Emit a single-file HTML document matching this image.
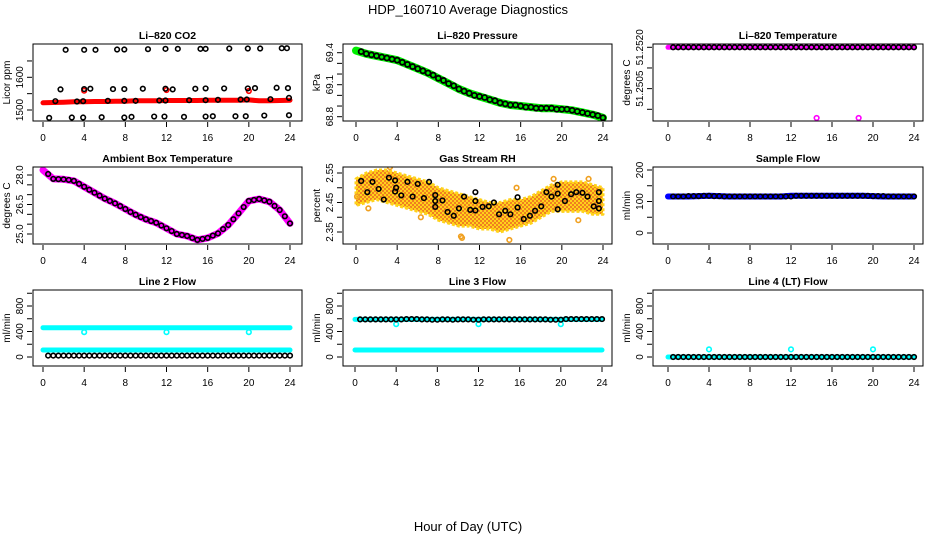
<!DOCTYPE html>
<html><head><meta charset="utf-8">
<style>
html,body{margin:0;padding:0;background:#fff;}
svg{display:block;font-family:"Liberation Sans",Arial,sans-serif;}
</style></head>
<body>
<svg id="chart" width="936" height="540" viewBox="0 0 936 540" xmlns="http://www.w3.org/2000/svg">
<defs>
<pattern id="rhpat" width="4" height="4" patternUnits="userSpaceOnUse">
<rect width="4" height="4" fill="#ffd21a"/>
<rect width="2" height="2" fill="#f08020"/>
<rect x="2" y="2" width="2" height="2" fill="#f08020"/>
</pattern>
</defs>
<text x="468" y="14" font-size="13" text-anchor="middle">HDP_160710  Average Diagnostics</text>
<text x="468" y="531" font-size="13" text-anchor="middle">Hour of Day (UTC)</text>
</svg>
<script>
// ---------- data ----------
const xTicks = [0,4,8,12,16,20,24];
const halfHours = [0.5,1,1.5,2,2.5,3,3.5,4,4.5,5,5.5,6,6.5,7,7.5,8,8.5,9,9.5,10,10.5,11,11.5,12,12.5,13,13.5,14,14.5,15,15.5,16,16.5,17,17.5,18,18.5,19,19.5,20,20.5,21,21.5,22,22.5,23,23.5,24];
const hours = [0,1,2,3,4,5,6,7,8,9,10,11,12,13,14,15,16,17,18,19,20,21,22,23,24];

// CO2
const co2RedBand = [1522,1523,1524,1525,1525,1526,1526,1527,1527,1528,1528,1528,1529,1529,1529,1529,1530,1530,1530,1530,1531,1528,1528,1529,1530];
const co2BlackHours = [2.2,4.0,5.1,7.2,7.9,10.2,11.9,13.1,15.3,15.8,18.1,19.9,21.1,23.2,23.7,
 1.7,4.0,4.6,6.8,7.9,9.7,11.9,12.6,14.8,15.8,17.6,19.9,20.6,22.7,23.8,
 1.2,3.3,3.9,6.3,7.9,9.0,11.3,11.9,14.2,15.8,17.0,19.2,19.8,22.1,23.9,
 0.6,2.8,3.9,5.7,7.9,8.6,10.8,11.8,13.7,15.8,16.5,18.7,19.7,21.5,23.9];
const co2BlackValues = [1684,1684,1684,1685,1685,1686,1687,1687,1687,1687,1688,1688,1688,1689,1689,
 1563,1564,1565,1564,1564,1565,1565,1563,1565,1566,1566,1566,1567,1568,1567,
 1527,1526,1527,1528,1528,1528,1529,1529,1530,1530,1531,1532,1532,1533,1537,
 1476,1477,1477,1478,1477,1479,1480,1480,1479,1480,1481,1481,1481,1483,1484];
const co2RedOutHours = [4.0,12.0,20.0];
const co2RedOutValues = [1559,1561,1558];

// Pressure
const presGreen = [69.42,69.39,69.37,69.35,69.33,69.29,69.25,69.21,69.16,69.11,69.06,69.02,68.99,68.96,68.93,68.91,68.90,68.89,68.88,68.88,68.87,68.86,68.84,68.82,68.79];
const presBlack = [69.41,69.39,69.38,69.37,69.36,69.35,69.34,69.33,69.31,69.29,69.27,69.25,69.23,69.21,69.19,69.16,69.14,69.11,69.09,69.06,69.04,69.02,69.00,68.99,68.98,68.96,68.95,68.93,68.92,68.91,68.91,68.90,68.89,68.89,68.88,68.88,68.88,68.88,68.87,68.87,68.87,68.86,68.85,68.84,68.83,68.82,68.81,68.79];

// Li-820 temperature
const tempBand = [51.2520,51.2520,51.2520,51.2520,51.2520,51.2520,51.2520,51.2520,51.2520,51.2520,51.2520,51.2520,51.2520,51.2520,51.2520,51.2520,51.2520,51.2520,51.2520,51.2520,51.2520,51.2520,51.2520,51.2520,51.2520];
const tempBlack = Array(48).fill(51.2520);
const tempOutHours = [14.5,18.6];
const tempOutValues = [51.25029,51.25029];

// Ambient box temperature
const ambBand = [28.25,27.8,27.78,27.7,27.4,27.1,26.8,26.56,26.27,25.98,25.75,25.57,25.29,25.0,24.9,24.7,24.8,25.03,25.46,26.05,26.68,26.78,26.64,26.22,25.54];
const ambBlack = [28.05,27.8,27.79,27.78,27.75,27.7,27.55,27.4,27.25,27.1,26.95,26.8,26.68,26.56,26.42,26.27,26.12,25.98,25.86,25.75,25.66,25.57,25.43,25.29,25.15,25.0,24.95,24.9,24.8,24.7,24.75,24.8,24.92,25.03,25.25,25.46,25.75,26.05,26.37,26.68,26.73,26.78,26.71,26.64,26.43,26.22,25.9,25.54];

// Gas stream RH
const rhUpper = [2.53,2.55,2.56,2.56,2.55,2.54,2.53,2.52,2.50,2.49,2.48,2.47,2.46,2.45,2.45,2.46,2.46,2.47,2.49,2.51,2.52,2.52,2.52,2.51,2.50];
const rhLower = [2.44,2.45,2.46,2.45,2.44,2.43,2.42,2.41,2.39,2.38,2.37,2.37,2.36,2.36,2.35,2.36,2.37,2.38,2.40,2.42,2.42,2.42,2.42,2.41,2.41];
const rhBlackHours = [0.5,1.1,1.6,2.2,2.7,3.2,3.8,3.8,3.9,4.4,5.0,5.5,6.0,6.6,7.1,7.7,7.7,7.7,8.4,8.9,9.5,10.0,10.5,11.1,11.6,11.6,11.6,12.3,12.9,13.4,13.9,14.5,15.0,15.7,15.7,16.3,16.9,17.4,18.0,18.5,19.0,19.6,19.6,19.6,20.3,20.9,21.4,22.0,22.5,23.1,23.6,23.6,23.6];
const rhBlackValues = [2.523,2.485,2.52,2.496,2.46,2.534,2.525,2.487,2.50,2.474,2.52,2.47,2.513,2.465,2.52,2.475,2.455,2.435,2.457,2.418,2.405,2.43,2.47,2.425,2.485,2.455,2.423,2.435,2.437,2.45,2.41,2.422,2.41,2.468,2.433,2.394,2.405,2.422,2.437,2.485,2.47,2.51,2.48,2.427,2.455,2.478,2.485,2.483,2.47,2.437,2.455,2.485,2.43];
const rhOutHours = [0.1,0.5,1.2,3.3,6.3,10.2,10.3,14.9,15.6,19.2,21.6,22.6];
const rhOutValues = [2.47,2.58,2.43,2.57,2.40,2.335,2.33,2.323,2.50,2.53,2.39,2.53];

// Sample flow
const sampleBand = [116,116,116,117,118,117,116,116,116,116,116,116,118,118,118,118,118,118,118,118,117,116,116,116,116];
const sampleBlack = [116,116,116,117,117,117,118,118,117,117,116,116,116,116,116,116,116,116,116,116,116,116,116,116,118,118,118,118,118,118,118,118,118,118,118,118,118,118,118,117,117,117,116,116,116,116,116,116];

// Line 2 flow
const l2Upper = [460,460,460,460,460,460,460,460,460,460,460,460,460,460,460,460,460,460,460,460,460,460,460,460,460];
const l2Lower = [110,110,110,110,110,110,110,110,110,110,110,110,110,110,110,110,110,110,110,110,110,110,110,110,110];
const l2Black = Array(48).fill(22);
const l2OutHours = [4,12,20];
const l2OutValues = [390,390,390];

// Line 3 flow
const l3Upper = [590,590,590,590,590,590,590,590,590,590,590,590,590,590,590,590,590,590,590,590,590,590,590,590,590];
const l3Lower = [110,110,110,110,110,110,110,110,110,110,110,110,110,110,110,110,110,110,110,110,110,110,110,110,110];
const l3Black = [590,590,590,590,590,590,590,590,590,595,595,595,590,590,585,585,590,590,585,590,590,590,585,585,590,590,590,590,590,590,590,590,590,590,590,590,590,585,585,585,595,595,595,595,595,595,595,595];
const l3OutHours = [4,12,20];
const l3OutValues = [515,515,515];

// Line 4 flow
const l4Band = Array(25).fill(0);
const l4Black = Array(48).fill(0);
const l4OutHours = [4,12,20];
const l4OutValues = [120,120,120];

// ---------- drawing ----------
const svg = document.getElementById('chart');
const NS = 'http://www.w3.org/2000/svg';
function mk(tag, attrs, parent){
  const e = document.createElementNS(NS, tag);
  for (const k in attrs) e.setAttribute(k, attrs[k]);
  (parent||svg).appendChild(e);
  return e;
}
function makePanel(cfg){
  const g = mk('g', {});
  
  
  const xs = h => cfg.x0 + (cfg.x24 - cfg.x0) * h / 24;
  const ys = v => cfg.ya[1] + (v - cfg.ya[0]) * (cfg.yb[1] - cfg.ya[1]) / (cfg.yb[0] - cfg.ya[0]);
  const [l,t,r,b] = cfg.box;
  const title = mk('text', {x:(l+r)/2, y:t-5, 'font-size':10.5, 'font-weight':'bold', 'text-anchor':'middle'}, g);
  title.textContent = cfg.title;
  
  
  const clip = mk('clipPath', {id:'c-'+cfg.name}, g);
  mk('rect', {x:l, y:t, width:r-l, height:b-t}, clip);
  const plot = mk('g', {'clip-path':'url(#c-'+cfg.name+')'}, g);
  cfg.draw(plot, xs, ys);
  const frame = mk('rect', {x:l, y:t, width:r-l, height:b-t, fill:'none', stroke:'#000', 'stroke-width':1}, g);
  
  
  xTicks.forEach(h => {
    const x = xs(h);
    mk('line', {x1:x, x2:x, y1:b+1, y2:b+6, stroke:'#000'}, g);
    const tx = mk('text', {x:x, y:b+20, 'font-size':10, 'text-anchor':'middle'}, g);
    tx.textContent = h;
    
    
  });
  cfg.yTicks.forEach(v => {
    const y = ys(v);
    mk('line', {x1:l-1, x2:l-6, y1:y, y2:y, stroke:'#000'}, g);
  });
  cfg.yLabels.forEach((v,i) => {
    const y = ys(v);
    const tx = mk('text', {x:l-10, y:y, 'font-size':10, 'text-anchor':'middle', transform:'rotate(-90 '+(l-10)+' '+y+')'}, g);
    tx.textContent = cfg.yLabelText[i];
    
    
  });
  const yt = mk('text', {x:l-23, y:(t+b)/2, 'font-size':10, 'text-anchor':'middle', transform:'rotate(-90 '+(l-23)+' '+((t+b)/2)+')'}, g);
  yt.textContent = cfg.ylab;
  
  
}
function band(p, xs, ys, hs, vals, color, w, name){
  const pts = hs.map((h,i) => xs(h).toFixed(1)+','+ys(vals[i]).toFixed(1)).join(' ');
  const pl = mk('polyline', {points:pts, fill:'none', stroke:color, 'stroke-width':w, 'stroke-linecap':'round', 'stroke-linejoin':'round'}, p);
  
  
}
function circles(p, xs, ys, hs, vals, color, name, r, sw){
  hs.forEach((h,i) => {
    const c = mk('circle', {cx:xs(h), cy:ys(vals[i]), r:r||2.3, fill:'none', stroke:color, 'stroke-width':sw||1.6}, p);
    
    
  });
}
function polyBand(p, xs, ys, hs, up, lo, name){
  const top = hs.map((h,i) => xs(h)+','+ys(up[i]));
  const bot = hs.slice().reverse().map((h,i) => xs(h)+','+ys(lo[hs.length-1-i]));
  const pg = mk('polygon', {points:top.concat(bot).join(' '), fill:'url(#rhpat)', stroke:'#ffd21a', 'stroke-width':3, 'stroke-dasharray':'3 2', 'stroke-linejoin':'round'}, p);
  
  
}
const flowTicks = [0,200,400,600,800,1000];

makePanel({name:'co2', title:'Li\u2013820 CO2', ylab:'Licor ppm', box:[33,44,302,121], x0:43, x24:290,
  ya:[1500,110], yb:[1600,77.3], yTicks:[1500,1550,1600,1650], yLabels:[1500,1600], yLabelText:['1500','1600'],
  draw:(p,xs,ys)=>{ band(p,xs,ys,hours,co2RedBand,'#ff0000',5,'co2-red-series');
    circles(p,xs,ys,co2RedOutHours,co2RedOutValues,'#ff0000','co2-red-point');
    circles(p,xs,ys,co2BlackHours,co2BlackValues,'#000','co2-black-point'); }});
makePanel({name:'pressure', title:'Li\u2013820 Pressure', ylab:'kPa', box:[343,44,612,121], x0:356, x24:603,
  ya:[68.8,116.7], yb:[69.4,52.7], yTicks:[68.8,68.9,69.0,69.1,69.2,69.3,69.4], yLabels:[68.8,69.1,69.4], yLabelText:['68.8','69.1','69.4'],
  draw:(p,xs,ys)=>{ band(p,xs,ys,hours,presGreen,'#00ee00',8,'pressure-green-series');
    circles(p,xs,ys,halfHours,presBlack,'#000','pressure-black-point',2.5,1.8); }});
makePanel({name:'li820-temp', title:'Li\u2013820 Temperature', ylab:'degrees C', box:[653,44,923,121], x0:668, x24:914,
  ya:[51.2505,109.3], yb:[51.2520,47.3], yTicks:[51.2505,51.2510,51.2515,51.2520], yLabels:[51.2510,51.2520], yLabelText:['51.2505','51.2520'],
  draw:(p,xs,ys)=>{ band(p,xs,ys,hours,tempBand,'#ff00ff',5,'temp-magenta-series');
    circles(p,xs,ys,halfHours,tempBlack,'#000','temp-black-point');
    circles(p,xs,ys,tempOutHours,tempOutValues,'#ff00ff','temp-magenta-point'); }});
makePanel({name:'ambient', title:'Ambient Box Temperature', ylab:'degrees C', box:[33,167,302,244], x0:43, x24:290,
  ya:[25,234], yb:[28,175], yTicks:[25,25.5,26,26.5,27,27.5,28], yLabels:[25,26.5,28], yLabelText:['25.0','26.5','28.0'],
  draw:(p,xs,ys)=>{ band(p,xs,ys,hours,ambBand,'#ff00ff',7,'ambient-magenta-series');
    circles(p,xs,ys,halfHours,ambBlack,'#000','ambient-black-point'); }});
makePanel({name:'rh', title:'Gas Stream RH', ylab:'percent', box:[343,167,612,244], x0:356, x24:603,
  ya:[2.35,232], yb:[2.55,173], yTicks:[2.35,2.40,2.45,2.50,2.55], yLabels:[2.35,2.45,2.55], yLabelText:['2.35','2.45','2.55'],
  draw:(p,xs,ys)=>{ polyBand(p,xs,ys,hours,rhUpper,rhLower,'rh-orange-cloud');
    circles(p,xs,ys,rhOutHours,rhOutValues,'#f0a020','rh-orange-point');
    circles(p,xs,ys,rhBlackHours,rhBlackValues,'#000','rh-black-point'); }});
makePanel({name:'sample-flow', title:'Sample Flow', ylab:'ml/min', box:[653,167,923,244], x0:668, x24:914,
  ya:[0,233], yb:[200,170], yTicks:[0,50,100,150,200], yLabels:[0,100,200], yLabelText:['0','100','200'],
  draw:(p,xs,ys)=>{ band(p,xs,ys,hours,sampleBand,'#0000ff',6,'sample-blue-series');
    circles(p,xs,ys,halfHours,sampleBlack,'#000','sample-black-point'); }});
makePanel({name:'line2', title:'Line 2 Flow', ylab:'ml/min', box:[33,290,302,366], x0:43, x24:290,
  ya:[0,357], yb:[800,306], yTicks:flowTicks, yLabels:[0,400,800], yLabelText:['0','400','800'],
  draw:(p,xs,ys)=>{ band(p,xs,ys,hours,l2Upper,'#00ffff',5,'line2-cyan-upper');
    band(p,xs,ys,hours,l2Lower,'#00ffff',5,'line2-cyan-lower');
    circles(p,xs,ys,l2OutHours,l2OutValues,'#00ffff','line2-cyan-point');
    circles(p,xs,ys,halfHours,l2Black,'#000','line2-black-point'); }});
makePanel({name:'line3', title:'Line 3 Flow', ylab:'ml/min', box:[343,290,612,366], x0:355, x24:602,
  ya:[0,357], yb:[800,306], yTicks:flowTicks, yLabels:[0,400,800], yLabelText:['0','400','800'],
  draw:(p,xs,ys)=>{ band(p,xs,ys,hours,l3Upper,'#00ffff',5,'line3-cyan-upper');
    band(p,xs,ys,hours,l3Lower,'#00ffff',5,'line3-cyan-lower');
    circles(p,xs,ys,l3OutHours,l3OutValues,'#00ffff','line3-cyan-point');
    circles(p,xs,ys,halfHours,l3Black,'#000','line3-black-point'); }});
makePanel({name:'line4', title:'Line 4 (LT) Flow', ylab:'ml/min', box:[653,290,923,366], x0:668, x24:914,
  ya:[0,357], yb:[800,306], yTicks:flowTicks, yLabels:[0,400,800], yLabelText:['0','400','800'],
  draw:(p,xs,ys)=>{ band(p,xs,ys,hours,l4Band,'#00ffff',5,'line4-cyan-series');
    circles(p,xs,ys,halfHours,l4Black,'#000','line4-black-point');
    circles(p,xs,ys,l4OutHours,l4OutValues,'#00ffff','line4-cyan-point'); }});
</script>
</body></html>
